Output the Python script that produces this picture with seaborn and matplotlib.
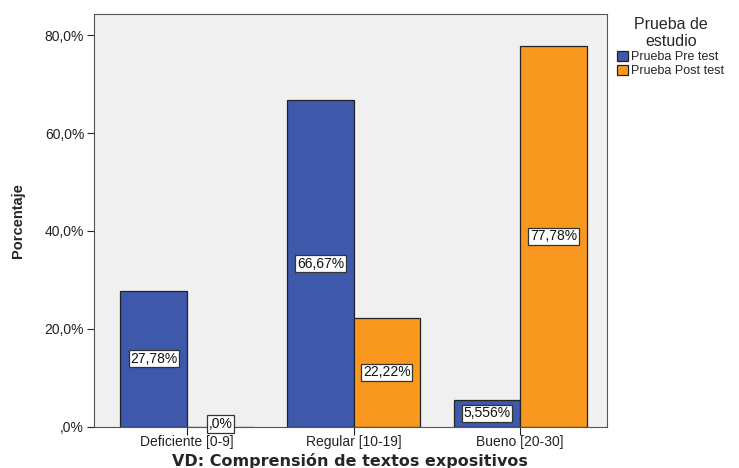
import pandas as pd
import matplotlib.pyplot as plt
import seaborn as sns

# Datos
categorias = ["Deficiente [0-9]", "Regular [10-19]", "Bueno [20-30]"]
pre_test = [27.78, 66.67, 5.556]
post_test = [0.0, 22.22, 77.78]
etiquetas_pre = ["27,78%", "66,67%", "5,556%"]
etiquetas_post = [",0%", "22,22%", "77,78%"]
grupos = ["Prueba Pre test", "Prueba Post test"]
ticks_y = [0, 20, 40, 60, 80]
ticks_y_txt = [",0%", "20,0%", "40,0%", "60,0%", "80,0%"]

df = pd.DataFrame({
    "categoria": categorias * 2,
    "grupo": [grupos[0]] * 3 + [grupos[1]] * 3,
    "valor": pre_test + post_test,
})

sns.set_style("white")
plt.rcParams["font.family"] = ["Liberation Sans", "DejaVu Sans"]

fig = plt.figure(figsize=(7.39, 4.68), dpi=100)
ax = fig.add_axes([0.127, 0.088, 0.694, 0.882])
ax.set_facecolor("#f0f0f0")

sns.barplot(data=df, x="categoria", y="valor", hue="grupo", order=categorias,
            hue_order=grupos, palette=["#3e58ac", "#f8981f"], width=0.8,
            edgecolor="#222222", linewidth=0.9, saturation=1, ax=ax)

# Etiquetas de valor en cajas blancas
for cont, textos in zip(ax.containers, [etiquetas_pre, etiquetas_post]):
    for barra, txt in zip(cont, textos):
        x = barra.get_x() + barra.get_width() / 2
        y = max(barra.get_height() / 2, 0.6)
        ax.text(x, y, txt, ha="center", va="center", fontsize=10, color="#111111",
                bbox=dict(boxstyle="square,pad=0.12", fc="white", ec="#333333", lw=0.9))

ax.set_ylim(0, 84.3)
ax.set_xlim(-0.56, 2.52)
ax.set_yticks(ticks_y)
ax.set_yticklabels(ticks_y_txt, fontsize=10, color="#222222")
ax.tick_params(axis="x", labelsize=10, colors="#222222", pad=0, length=6)
ax.tick_params(axis="y", length=5, pad=2)
ax.tick_params(axis="both", direction="out", width=0.8, left=True, bottom=True)
for s in ax.spines.values():
    s.set_color("#555555")
    s.set_linewidth(0.8)

ax.set_ylabel("Porcentaje", fontsize=10.5, fontweight="bold", va="center")
ax.yaxis.set_label_coords(-0.148, 0.5)
ax.set_xlabel("VD: Comprensión de textos expositivos", fontsize=11.5,
              fontweight="bold", family="DejaVu Sans", va="center")
ax.xaxis.set_label_coords(0.5, -0.082)

leg = ax.legend(title="Prueba de\nestudio", loc="upper left", bbox_to_anchor=(1.016, 1.0),
                frameon=False, fontsize=9, title_fontsize=11.5, handlelength=0.85,
                handleheight=0.85, handletextpad=0.25, borderaxespad=0.1, labelspacing=0.15,
                borderpad=0.1)
leg.get_title().set_multialignment("center")
for h in leg.legend_handles:
    h.set_edgecolor("#222222")

plt.savefig("out.png", dpi=100)
